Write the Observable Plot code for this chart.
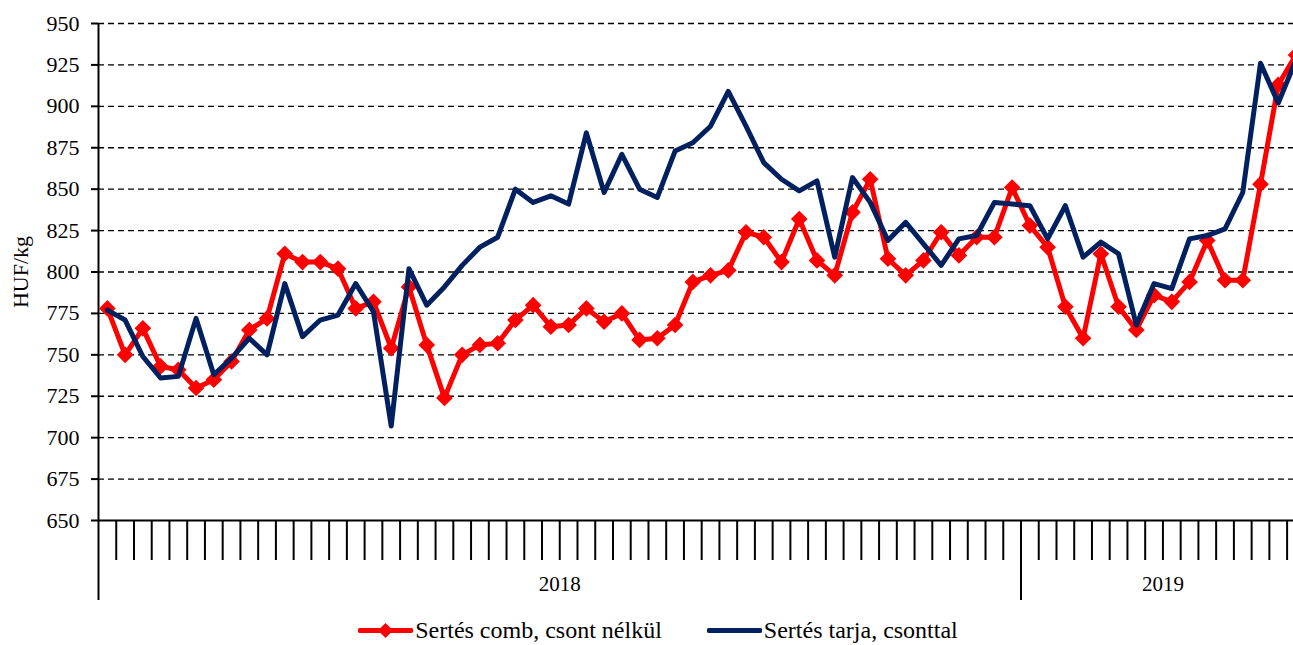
<!DOCTYPE html>
<html>
<head>
<meta charset="utf-8">
<script src="https://cdn.jsdelivr.net/npm/d3@7"></script>
<script src="https://cdn.jsdelivr.net/npm/@observablehq/plot@0.6"></script>
<style>
  html, body { margin: 0; padding: 0; background: #fff; overflow: hidden; }
  body { width: 1293px; height: 645px; font-family: "Liberation Serif", "Times New Roman", serif; color: #000; }
  #chart svg { display: block; }
  #legend { display: flex; justify-content: center; align-items: center; gap: 45px; height: 30px; padding-left: 23px;
            font-family: "Liberation Serif", "Times New Roman", serif; font-size: 24px; }
  .item { display: flex; align-items: center; }
  .item svg { display: block; margin-right: 2px; }
</style>
</head>
<body>
<div id="chart"></div>
<div id="legend"></div>
<script>
// ---- data ----
const years = ["2018", "2019"];
const weeksPerYear = [52, 16];
const seriesNames = ["Sertés comb, csont nélkül", "Sertés tarja, csonttal"];
const seriesColors = ["#FF0000", "#002060"];
const yTicks = [650, 675, 700, 725, 750, 775, 800, 825, 850, 875, 900, 925, 950];

// Sertés comb, csont nélkül (HUF/kg), weekly
const comb = [778, 750, 766, 743, 741, 730, 735, 746, 765, 772,
              811, 806, 806, 802, 778, 782, 754, 791, 756, 724,
              750, 756, 757, 771, 780, 767, 768, 778, 770, 775,
              759, 760, 768, 794, 798, 801, 824, 821, 806, 832,
              807, 798, 836, 856, 808, 798, 807, 824, 810, 821,
              821, 851, 828, 815, 779, 760, 811, 779, 765, 786,
              782, 794, 819, 795, 795, 853, 913, 931];
// Sertés tarja, csonttal (HUF/kg), weekly
const tarja = [777, 771, 749, 736, 737, 772, 738, 748, 760, 750,
               793, 761, 771, 774, 793, 776, 707, 802, 780, 791,
               804, 815, 821, 850, 842, 846, 841, 884, 848, 871,
               850, 845, 873, 878, 888, 909, 888, 866, 856, 849,
               855, 809, 857, 842, 819, 830, 817, 804, 820, 822,
               842, 841, 840, 820, 840, 809, 818, 811, 768, 793,
               790, 820, 822, 826, 848, 926, 902, 928];

// ---- derived ----
const total = d3.sum(weeksPerYear);
const bounds = [0, ...d3.cumsum(weeksPerYear)];
const yearMid = weeksPerYear.map((w, k) => bounds[k] + w / 2);
const data = comb.map((v, i) => ({ t: i + 0.5, comb: v, tarja: tarja[i] }));
const visibleWeeks = 67.36; // the right part of the last week is cut off in the original

const chart = Plot.plot({
  width: 1293,
  height: 615,
  marginTop: 23,
  marginLeft: 98,
  marginRight: 0,
  marginBottom: 95,
  style: { fontFamily: '"Liberation Serif", "Times New Roman", serif', color: "#000", background: "#fff" },
  x: { type: "linear", domain: [0, visibleWeeks], axis: null },
  y: { domain: [650, 950], axis: null },
  marks: [
    Plot.gridY(yTicks.filter(d => d > 650), { stroke: "#000", strokeOpacity: 1, strokeWidth: 1.3, strokeDasharray: "6,4" }),
    Plot.axisY(yTicks, {
      tickSize: 7, tickPadding: 12, fontSize: 22, strokeWidth: 2,
      label: "HUF/kg", labelAnchor: "center", labelArrow: "none", labelOffset: 86
    }),
    Plot.ruleX([0], { stroke: "#000", strokeWidth: 2 }),
    Plot.ruleY([650], { stroke: "#000", strokeWidth: 2 }),
    Plot.axisX(d3.range(1, total), { tickSize: 40, tickFormat: () => "", strokeWidth: 2, label: null }),
    Plot.axisX(bounds.slice(0, -1), { tickSize: 80, tickFormat: () => "", strokeWidth: 2, label: null }),
    Plot.axisX(yearMid, { tickSize: 0, tickPadding: 56, fontSize: 21, label: null, tickFormat: d => years[yearMid.indexOf(d)] }),
    Plot.line(data, { x: "t", y: "comb", stroke: seriesColors[0], strokeWidth: 5, clip: true }),
    Plot.dot(data, { x: "t", y: "comb", symbol: "diamond2", r: 7.5, fill: seriesColors[0], stroke: "none", clip: true }),
    Plot.line(data, { x: "t", y: "tarja", stroke: seriesColors[1], strokeWidth: 5, clip: true })
  ]
});
document.getElementById("chart").appendChild(chart);

// ---- legend ----
const legend = document.getElementById("legend");
seriesNames.forEach((name, k) => {
  const item = document.createElement("div");
  item.className = "item";
  const marker = k === 0 ? '<path d="M27.5,1 L35,8.5 L27.5,16 L20,8.5 Z" fill="' + seriesColors[k] + '"/>' : "";
  item.innerHTML = '<svg width="55" height="17"><line x1="2" x2="53" y1="8.5" y2="8.5" stroke="' + seriesColors[k] +
    '" stroke-width="5" stroke-linecap="round"/>' + marker + '</svg><span>' + name + '</span>';
  legend.appendChild(item);
});
</script>
</body>
</html>
